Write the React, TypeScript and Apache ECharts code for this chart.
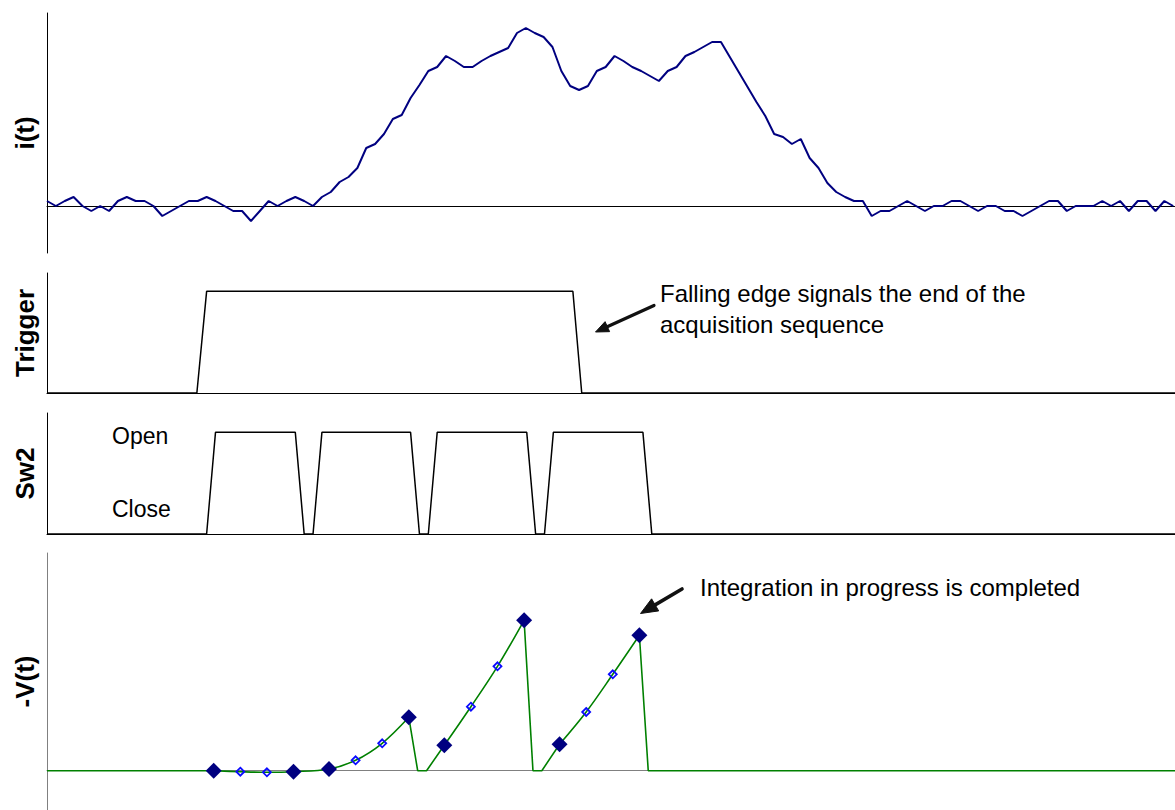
import React, { useEffect, useRef } from "react";
import * as echarts from "echarts";

// ---------- Panel 1: i(t), one sample per time unit ----------
const iValues = [
  0.5, 0, 0.5, 0.9, 0, -0.5, 0, -0.5, 0.5, 0.9,
  0.5, 0.5, 0, -1.0, -0.5, 0, 0.5, 0.5, 0.9, 0.5,
  0, -0.5, -0.5, -1.5, -0.5, 0.5, 0, 0.5, 0.9, 0.5,
  0, 0.9, 1.4, 2.4, 2.9, 3.8, 5.8, 6.2, 7.2, 8.7,
  9.1, 10.8, 12.1, 13.5, 13.9, 15.0, 14.5, 13.9, 13.9, 14.5,
  15.0, 15.4, 15.8, 17.3, 17.8, 17.3, 16.9, 15.9, 13.5, 12.0,
  11.6, 12.0, 13.5, 13.9, 15.0, 14.5, 13.9, 13.5, 13.0, 12.5,
  13.5, 13.9, 15.0, 15.4, 15.9, 16.4, 16.4, 14.9, 13.4, 11.9,
  10.4, 9.0, 7.2, 6.9, 6.2, 6.7, 4.8, 3.8, 2.3, 1.4,
  0.9, 0.5, 0.5, -1.0, -0.5, -0.5, 0, 0.5, 0, -0.5,
  0, 0, 0.5, 0.5, 0, -0.5, 0, 0, -0.5, -0.5,
  -1.0, -0.5, 0, 0.5, 0.5, -0.5, 0, 0, 0, 0.5,
  0, 0.5, -0.5, 0.5, 0.5, -0.5, 0.5, 0,
];

const timeMax = 127.2;

// ---------- Panel 2: Trigger ----------
const triggerTime = [0, 16.9, 18.0, 59.3, 60.3, 127.2];
const triggerLevel = [0, 0, 1, 1, 0, 0];

// ---------- Panel 3: Sw2 ----------
const sw2Time = [0, 18, 19, 28, 29, 30, 31, 41, 42, 43, 44, 54.1, 55.1, 56.1, 57.1, 67.2, 68.2, 127.2];
const sw2Level = [0, 0, 1, 1, 0, 0, 1, 1, 0, 0, 1, 1, 0, 0, 1, 1, 0, 0];
const sw2StateLabels = ["Open", "Close"];

// ---------- Panel 4: -V(t) ----------
const vTime = [0, 18.8, 21.8, 24.8, 27.8, 31.8, 34.8, 37.8, 40.8, 41.8, 42.8, 44.8, 47.8, 50.8, 53.8, 54.8, 55.8, 57.8, 60.8, 63.8, 66.8, 67.8, 127.2];
const vValue = [0, 0, -0.1, -0.16, -0.1, 0.17, 1.04, 2.74, 5.34, 0, 0, 2.54, 6.4, 10.44, 15.04, 0, 0, 2.64, 5.87, 9.64, 13.54, 0, 0];
const vKind = ["", "L", "S", "S", "L", "L", "S", "S", "L", "", "", "L", "S", "S", "L", "", "", "L", "S", "S", "L", "", ""];
// [from, to, smooth]
const vSegments: [number, number, boolean][] = [
  [0, 1, false],
  [1, 8, true],
  [8, 11, false],
  [11, 14, true],
  [14, 17, false],
  [17, 20, true],
  [20, 22, false],
];

const axisNames = ["i(t)", "Trigger", "Sw2", "-V(t)"];
const annotationTrigger = ["Falling edge signals the end of the", "acquisition sequence"];
const annotationV = "Integration in progress is completed";

const FONT = "'Liberation Sans', Arial, sans-serif";

function arrow(tail: number[], tip: number[], headLen: number, headW: number, shaftW: number) {
  const dx = tip[0] - tail[0];
  const dy = tip[1] - tail[1];
  const L = Math.hypot(dx, dy);
  const ux = dx / L, uy = dy / L;
  const bx = tip[0] - ux * headLen, by = tip[1] - uy * headLen;
  const px = -uy, py = ux;
  return [
    {
      type: "line",
      shape: { x1: tail[0], y1: tail[1], x2: bx + ux * 2, y2: by + uy * 2 },
      style: { stroke: "#111", lineWidth: shaftW, lineCap: "round" },
      z: 100,
    },
    {
      type: "polygon",
      shape: {
        points: [
          [tip[0], tip[1]],
          [bx + (px * headW) / 2, by + (py * headW) / 2],
          [bx - (px * headW) / 2, by - (py * headW) / 2],
        ],
      },
      style: { fill: "#111", stroke: "#111", lineWidth: 1 },
      z: 100,
    },
  ];
}

export default function App() {
  const ref = useRef<HTMLDivElement>(null);

  useEffect(() => {
    if (!ref.current) return;
    const chart = echarts.init(ref.current, null, { renderer: "svg" });

    const grids = [
      { left: 47, right: 0, top: 13, height: 240 },
      { left: 47, right: 0, top: 273, height: 120 },
      { left: 47, right: 0, top: 413, height: 121 },
      { left: 47, right: 0, top: 553, height: 257 },
    ].map((g) => ({ ...g, outerBoundsMode: "none", containLabel: false }));

    const yRanges = [
      [-4.7, 19.3],
      [0, 1.18],
      [0, 1.19],
      [-3.93, 21.77],
    ];
    const axisColors = ["#000", "#000", "#000", "#808080"];

    const xAxis = grids.map((_, i) => ({
      type: "value",
      gridIndex: i,
      min: 0,
      max: timeMax,
      axisLine: { show: true, onZero: true, lineStyle: { color: axisColors[i], width: 1 } },
      axisTick: { show: false },
      axisLabel: { show: false },
      splitLine: { show: false },
    }));

    const yAxis = grids.map((_, i) => ({
      type: "value",
      gridIndex: i,
      min: yRanges[i][0],
      max: yRanges[i][1],
      name: axisNames[i],
      nameLocation: "middle",
      nameGap: 9,
      nameTextStyle: { fontFamily: FONT, fontWeight: "bold", fontSize: 26, color: "#000" },
      axisLine: { show: true, onZero: false, lineStyle: { color: axisColors[i], width: 1 } },
      axisTick: { show: false },
      axisLabel: { show: false },
      splitLine: { show: false },
    }));

    const series: any[] = [
      {
        type: "line",
        xAxisIndex: 0,
        yAxisIndex: 0,
        data: iValues.map((v, i) => [i, v]),
        symbol: "none",
        lineStyle: { color: "#000080", width: 2 },
      },
      {
        type: "line",
        xAxisIndex: 1,
        yAxisIndex: 1,
        data: triggerTime.map((t, i) => [t, triggerLevel[i]]),
        symbol: "none",
        lineStyle: { color: "#000", width: 1.5 },
      },
      {
        type: "line",
        xAxisIndex: 2,
        yAxisIndex: 2,
        data: sw2Time.map((t, i) => [t, sw2Level[i]]),
        symbol: "none",
        lineStyle: { color: "#000", width: 1.5 },
      },
    ];

    vSegments.forEach(([from, to, smooth]) => {
      const d: number[][] = [];
      for (let i = from; i <= to; i++) d.push([vTime[i], vValue[i]]);
      series.push({
        type: "line",
        xAxisIndex: 3,
        yAxisIndex: 3,
        data: d,
        symbol: "none",
        smooth: smooth ? 0.35 : false,
        lineStyle: { color: "#008000", width: 1.6 },
        z: 3,
      });
    });

    series.push({
      type: "scatter",
      xAxisIndex: 3,
      yAxisIndex: 3,
      data: vTime.map((t, i) => (vKind[i] === "S" ? [t, vValue[i]] : null)).filter(Boolean),
      symbol: "diamond",
      symbolSize: 8,
      itemStyle: { color: "rgba(255,255,255,0)", borderColor: "#0a0aff", borderWidth: 1.8, opacity: 1 },
      z: 5,
    });
    series.push({
      type: "scatter",
      xAxisIndex: 3,
      yAxisIndex: 3,
      data: vTime.map((t, i) => (vKind[i] === "L" ? [t, vValue[i]] : null)).filter(Boolean),
      symbol: "diamond",
      symbolSize: 16,
      itemStyle: { color: "#000080", opacity: 1 },
      z: 6,
    });

    const textStyle = (x: number, y: number, text: string, size: number) => ({
      type: "text",
      x,
      y,
      style: { text, fontFamily: FONT, fontSize: size, fill: "#000", textVerticalAlign: "middle", verticalAlign: "middle" },
      z: 100,
    });

    const graphic: any[] = [
      textStyle(660, 293, annotationTrigger[0], 24),
      textStyle(660, 324, annotationTrigger[1], 24),
      textStyle(700, 587, annotationV, 24),
      textStyle(112, 436, sw2StateLabels[0], 23),
      textStyle(112, 509, sw2StateLabels[1], 23),
      ...arrow([654, 305.5], [595.5, 332], 13, 11, 3.2),
      ...arrow([682, 589], [640.5, 613.5], 17, 14, 3.6),
    ];

    chart.setOption({
      animation: false,
      backgroundColor: "#fff",
      textStyle: { fontFamily: FONT },
      grid: grids,
      xAxis,
      yAxis,
      series,
      graphic,
    });

    return () => chart.dispose();
  }, []);

  return (
    <div
      ref={ref}
      style={{ position: "fixed", left: 0, top: 0, width: 1175, height: 810 }}
    />
  );
}
